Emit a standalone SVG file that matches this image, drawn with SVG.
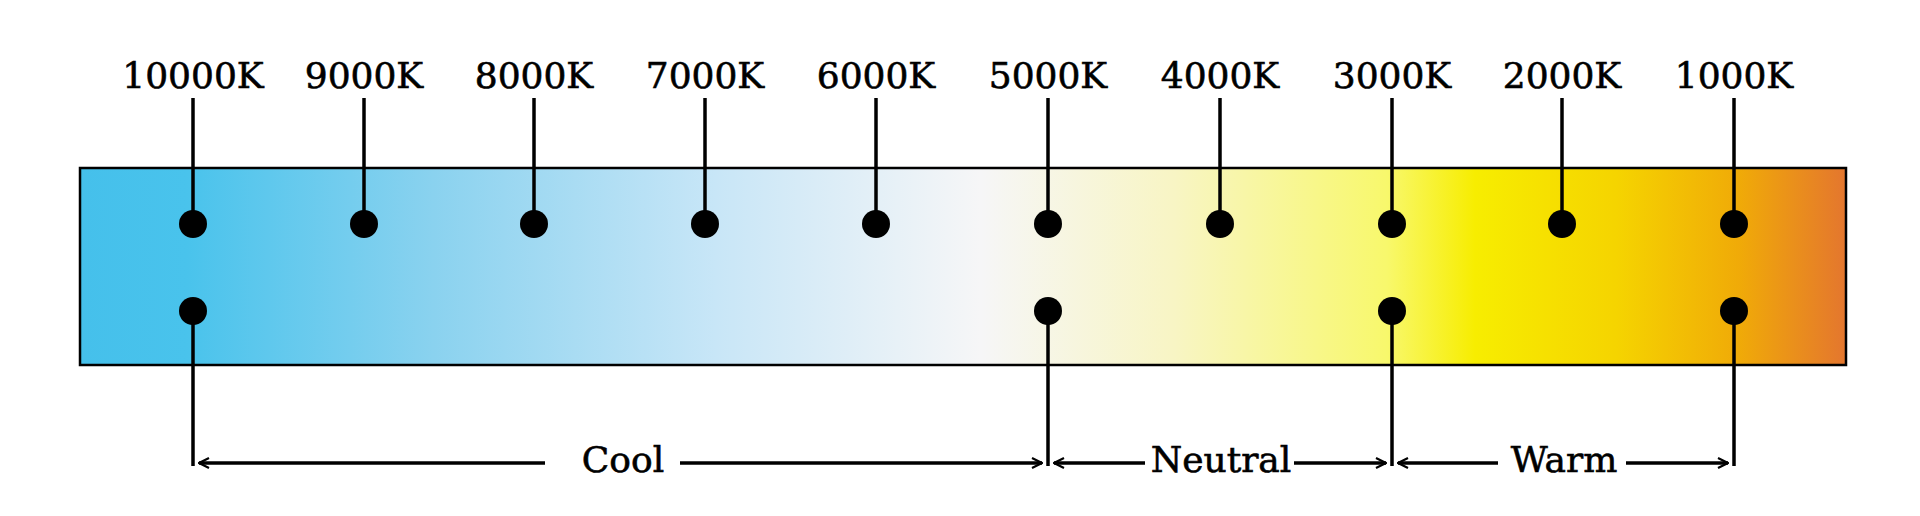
<svg xmlns="http://www.w3.org/2000/svg" width="1920" height="516" viewBox="0 0 1920 516">
<defs>
<linearGradient id="g" x1="0" y1="0" x2="1" y2="0">
<stop offset="0" stop-color="#45c0eb"/>
<stop offset="0.06" stop-color="#49c3ec"/>
<stop offset="0.2" stop-color="#8ad2ef"/>
<stop offset="0.36" stop-color="#c8e6f7"/>
<stop offset="0.51" stop-color="#f6f6f7"/>
<stop offset="0.62" stop-color="#f8f5c4"/>
<stop offset="0.74" stop-color="#f8f86c"/>
<stop offset="0.79" stop-color="#f7ed00"/>
<stop offset="0.87" stop-color="#f5d400"/>
<stop offset="0.94" stop-color="#f0aa08"/>
<stop offset="1" stop-color="#e4762e"/>
</linearGradient>
<marker id="a" viewBox="0 0 12 12" refX="11" refY="6" markerWidth="12" markerHeight="12" markerUnits="userSpaceOnUse" orient="auto-start-reverse">
<path d="M1,1 L11,6 L1,11" fill="none" stroke="#000" stroke-width="2.2"/>
</marker>
<style>
text{font-family:"DejaVu Serif","Liberation Serif",serif;font-size:36px;fill:#000;stroke:#000;stroke-width:0.6;text-anchor:middle}
line{stroke:#000;stroke-width:3.5}
circle{fill:#000}
</style>
</defs>
<rect x="80" y="168" width="1766" height="197" fill="url(#g)" stroke="#000" stroke-width="2.5"/>
<g id="ticks">
<text x="193" y="88">10000K</text><line x1="193" y1="98" x2="193" y2="224"/><circle cx="193" cy="224" r="14"/>
<text x="364" y="88">9000K</text><line x1="364" y1="98" x2="364" y2="224"/><circle cx="364" cy="224" r="14"/>
<text x="534" y="88">8000K</text><line x1="534" y1="98" x2="534" y2="224"/><circle cx="534" cy="224" r="14"/>
<text x="705" y="88">7000K</text><line x1="705" y1="98" x2="705" y2="224"/><circle cx="705" cy="224" r="14"/>
<text x="876" y="88">6000K</text><line x1="876" y1="98" x2="876" y2="224"/><circle cx="876" cy="224" r="14"/>
<text x="1048" y="88">5000K</text><line x1="1048" y1="98" x2="1048" y2="224"/><circle cx="1048" cy="224" r="14"/>
<text x="1220" y="88">4000K</text><line x1="1220" y1="98" x2="1220" y2="224"/><circle cx="1220" cy="224" r="14"/>
<text x="1392" y="88">3000K</text><line x1="1392" y1="98" x2="1392" y2="224"/><circle cx="1392" cy="224" r="14"/>
<text x="1562" y="88">2000K</text><line x1="1562" y1="98" x2="1562" y2="224"/><circle cx="1562" cy="224" r="14"/>
<text x="1734" y="88">1000K</text><line x1="1734" y1="98" x2="1734" y2="224"/><circle cx="1734" cy="224" r="14"/>
</g>
<g id="bounds">
<circle cx="193" cy="311" r="14"/><line x1="193" y1="311" x2="193" y2="466"/>
<circle cx="1048" cy="311" r="14"/><line x1="1048" y1="311" x2="1048" y2="466"/>
<circle cx="1392" cy="311" r="14"/><line x1="1392" y1="311" x2="1392" y2="466"/>
<circle cx="1734" cy="311" r="14"/><line x1="1734" y1="311" x2="1734" y2="466"/>
</g>
<g id="connectors">
<line x1="545" y1="463" x2="199" y2="463" marker-end="url(#a)"/>
<line x1="680" y1="463" x2="1042" y2="463" marker-end="url(#a)"/>
<line x1="1145" y1="463" x2="1054" y2="463" marker-end="url(#a)"/>
<line x1="1294" y1="463" x2="1386" y2="463" marker-end="url(#a)"/>
<line x1="1498" y1="463" x2="1398" y2="463" marker-end="url(#a)"/>
<line x1="1626" y1="463" x2="1728" y2="463" marker-end="url(#a)"/>
</g>
<g id="labels">
<text x="623" y="472">Cool</text>
<text x="1221" y="472">Neutral</text>
<text x="1564" y="472">Warm</text>
</g>
</svg>
